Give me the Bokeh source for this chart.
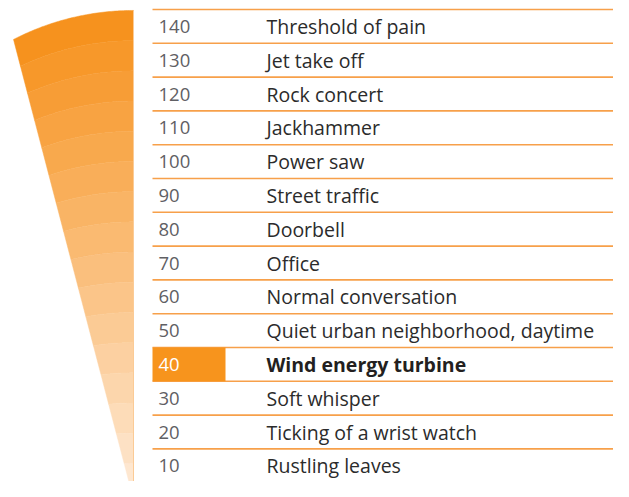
import numpy as np
from bokeh.plotting import figure
from bokeh.models import Range1d, ColumnDataSource
from bokeh.core.properties import value
from bokeh.embed import file_html
from bokeh.resources import INLINE

# ---- data ----
levels = [140, 130, 120, 110, 100, 90, 80, 70, 60, 50, 40, 30, 20, 10]
labels = ["Threshold of pain", "Jet take off", "Rock concert", "Jackhammer",
          "Power saw", "Street traffic", "Doorbell", "Office",
          "Normal conversation", "Quiet urban neighborhood, daytime",
          "Wind energy turbine", "Soft whisper", "Ticking of a wrist watch",
          "Rustling leaves"]
highlight = 40

# ---- style / layout ----
ORANGE = "#F7941D"
ROW_PX = 33.8            # height of one 10 dB row in px
PX_PER_DB = ROW_PX / 10.0
VSCALE = ROW_PX / 35.0   # vertical compression vs. design grid
TOP_DB = 145.0           # top edge of the table
TOP_PX = 9.0
W, H = 613, 481

def px_to_db(py):
    return TOP_DB - (np.asarray(py, float) - TOP_PX) / PX_PER_DB

def design_to_px(py):
    return TOP_PX + (np.asarray(py, float) - 10.0) * VSCALE

p = figure(width=W, height=H, output_backend="svg", toolbar_location=None,
           x_range=Range1d(0, W),
           y_range=Range1d(float(px_to_db(H)), float(px_to_db(0))),
           min_border=0)
p.axis.visible = False
p.grid.visible = False
p.outline_line_color = None
p.background_fill_color = "white"
p.border_fill_color = "white"

# ---- fan (decorative loudness wedge), design grid in px ----
cx, cy, R = 133.0, 266.0, 255.0      # arc geometry of the top edge
lx0, ly0, lslope = 13.0, 41.0, 0.252  # left edge line x = lx0 + slope*(y-ly0)
n_bands = 16
band_step = 31.27

def arc_y(x, d):
    return cy - np.sqrt(np.maximum(R**2 - (x - cx)**2, 0)) + d

def left_x(d):
    lo, hi = lx0 - 5, cx
    for _ in range(60):
        mid = (lo + hi) / 2
        f = mid - (lx0 + lslope * (arc_y(mid, d) - ly0))
        if f < 0:
            lo = mid
        else:
            hi = mid
    return (lo + hi) / 2

c0 = np.array([246, 146, 30])
c1 = np.array([254, 231, 208])
xs_list, ys_list, cols = [], [], []
for k in range(n_bands):
    d_up, d_lo = k * band_step, (k + 1) * band_step
    xu, xl = left_x(d_up), left_x(d_lo)
    ax_u = np.linspace(xu, cx, 60)
    ax_l = np.linspace(cx, xl, 60)
    bx = np.concatenate([ax_u, ax_l])
    by = np.concatenate([arc_y(ax_u, d_up), arc_y(ax_l, d_lo)])
    xs_list.append(list(bx))
    ys_list.append(list(px_to_db(design_to_px(by))))
    t = k / (n_bands - 1)
    c = (c0 + (c1 - c0) * t).round().astype(int)
    cols.append("#%02x%02x%02x" % tuple(c))

p.patches(xs=xs_list, ys=ys_list, fill_color=cols, line_color=cols, line_width=0.5)
p.segment(x0=[cx], y0=[float(px_to_db(design_to_px(11)))], x1=[cx],
          y1=[float(px_to_db(design_to_px(520)))],
          line_color="#FBCB96", line_width=1)

# ---- table ----
row_top = [v + 5 for v in levels[:-1]]
bottoms = [levels[-2] - 5]
line_y = row_top + bottoms
p.segment(x0=[152] * len(line_y), y0=line_y, x1=[640] * len(line_y), y1=line_y,
          line_color="#F7A04A", line_width=1.6)

p.quad(left=[152], right=[225], top=[highlight + 5], bottom=[highlight - 5],
       fill_color=ORANGE, line_color=None)

num_cols = ["white" if v == highlight else "#5F6064" for v in levels]
lab_style = ["bold" if v == highlight else "normal" for v in levels]
lab_cols = ["#231F20" if v == highlight else "#2B2B2B" for v in levels]
src = ColumnDataSource(dict(y=levels, num=[str(v) for v in levels], lab=labels,
                            nc=num_cols, ls=lab_style, lc=lab_cols))
p.text(x=158, y="y", text="num", source=src, text_color="nc",
       text_font=value("Open Sans"), text_font_size="18.5px",
       text_baseline="middle", text_align="left")
p.text(x=266, y="y", text="lab", source=src, text_color="lc", text_font_style="ls",
       text_font=value("Open Sans"), text_font_size="19.5px",
       text_baseline="middle", text_align="left")

open("out.html", "w").write(file_html(p, INLINE))
